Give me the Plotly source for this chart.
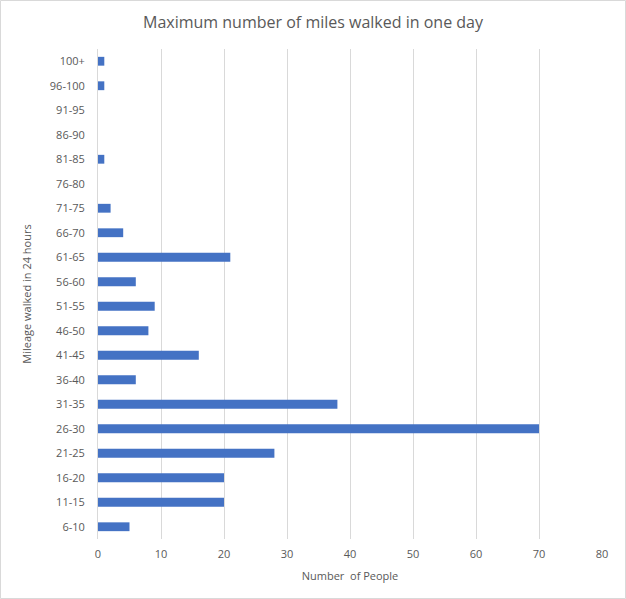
import plotly.graph_objects as go

# mileage buckets, bottom to top
categories = ["6-10", "11-15", "16-20", "21-25", "26-30", "31-35", "36-40", "41-45",
              "46-50", "51-55", "56-60", "61-65", "66-70", "71-75", "76-80", "81-85",
              "86-90", "91-95", "96-100", "100+"]
people = [5, 20, 20, 28, 70, 38, 6, 16, 8, 9, 6, 21, 4, 2, 0, 1, 0, 0, 1, 1]
x_ticks = [0, 10, 20, 30, 40, 50, 60, 70, 80]

grey = "#595959"
font_family = "Open Sans, Liberation Sans, sans-serif"

fig = go.Figure()
fig.add_trace(go.Bar(
    y=categories, x=people, orientation="h",
    marker=dict(color="#4472C4", line=dict(width=0)),
    width=0.36,
))

fig.update_layout(
    width=626, height=599,
    margin=dict(l=98, r=24, t=49, b=60, autoexpand=False),
    paper_bgcolor="white", plot_bgcolor="white",
    font=dict(family=font_family, color=grey, size=11),
    title=dict(text="Maximum number of miles walked in one day",
               x=0.5, xanchor="center", y=0.963, yanchor="middle",
               font=dict(size=16, color=grey)),
    showlegend=False,
)
fig.update_xaxes(
    range=[0, 80], tickvals=x_ticks, showgrid=True, gridcolor="#d9d9d9", gridwidth=1,
    zeroline=False, showline=False, ticks="",
    tickfont=dict(size=11, color=grey), ticklabelstandoff=7,
    title=dict(text="Number  of People", font=dict(size=11, color=grey), standoff=12),
)
fig.update_yaxes(
    type="category", categoryorder="array", categoryarray=categories,
    showline=True, linecolor="#d9d9d9", linewidth=1, showgrid=False, ticks="",
    tickfont=dict(size=11, color=grey), ticklabelstandoff=10,
    title=dict(text="Mileage walked in 24 hours", font=dict(size=11, color=grey), standoff=15),
)
# light chart-area border like the original
fig.add_shape(type="rect", xref="paper", yref="paper",
              x0=-97.5/504, x1=1+23.5/504, y0=-59.5/490, y1=1+48.5/490,
              line=dict(color="#d9d9d9", width=1))

fig.write_html("out.html", config={"displayModeBar": False},
               post_script="document.body.style.margin='0';")
